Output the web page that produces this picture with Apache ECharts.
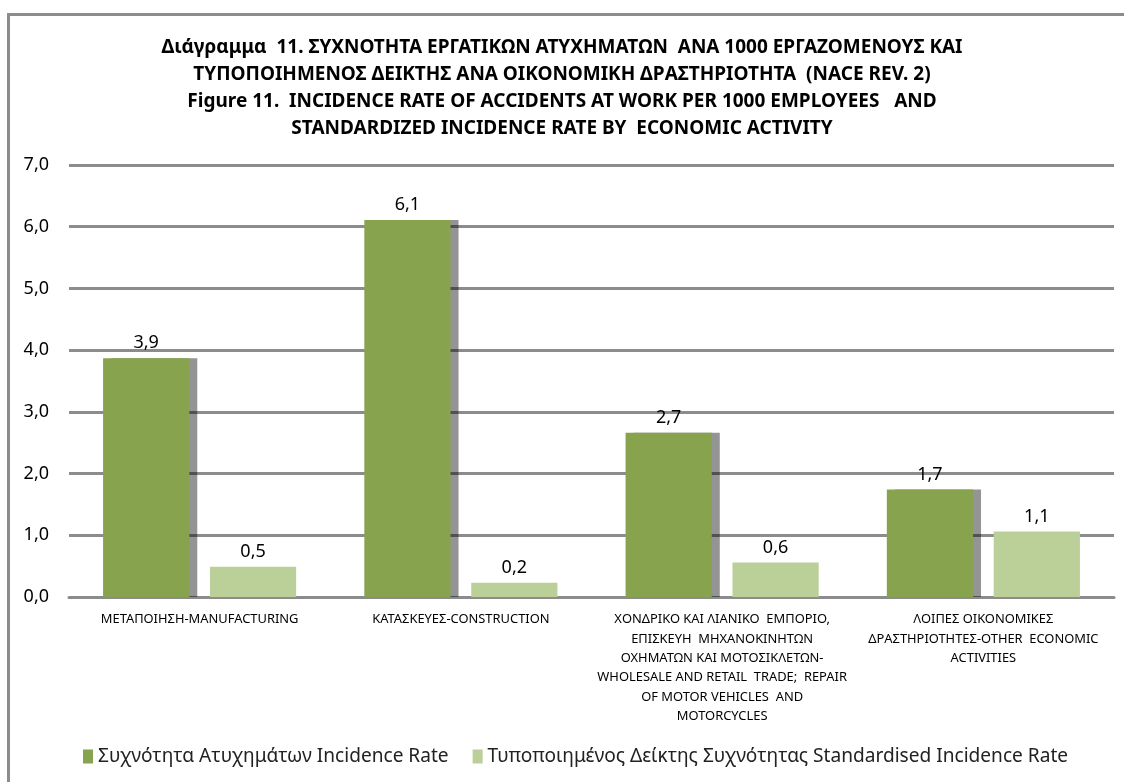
<!DOCTYPE html>
<html>
<head>
<meta charset="utf-8">
<script src="https://cdn.jsdelivr.net/npm/echarts@6/dist/echarts.min.js"></script>
<style>
  html, body { margin: 0; padding: 0; background: #fff; overflow: hidden; }
  #frame { position: absolute; left: 7px; top: 13px; width: 1140px; height: 800px; border: 3px solid #8c8c8c; box-sizing: border-box; }
  #main { position: absolute; left: 0; top: 0; width: 1124px; height: 782px; }
</style>
</head>
<body>
<div id="frame"></div>
<div id="main"></div>
<script>
// categories (greek / english, wrapped like the original)
const categories = [
    'ΜΕΤΑΠΟΙΗΣΗ-MANUFACTURING',
    'ΚΑΤΑΣΚΕΥΕΣ-CONSTRUCTION',
    'ΧΟΝΔΡΙΚΟ ΚΑΙ ΛΙΑΝΙΚΟ  ΕΜΠΟΡΙΟ,\nΕΠΙΣΚΕΥΗ  ΜΗΧΑΝΟΚΙΝΗΤΩΝ\nΟΧΗΜΑΤΩΝ ΚΑΙ ΜΟΤΟΣΙΚΛΕΤΩΝ-\nWHOLESALE AND RETAIL  TRADE;  REPAIR\nOF MOTOR VEHICLES  AND\nMOTORCYCLES',
    'ΛΟΙΠΕΣ ΟΙΚΟΝΟΜΙΚΕΣ\nΔΡΑΣΤΗΡΙΟΤΗΤΕΣ-OTHER  ECONOMIC\nACTIVITIES'
];
const incidenceRate = [3.87, 6.11, 2.66, 1.74];
const standardisedRate = [0.49, 0.23, 0.56, 1.06];
const seriesNames = [
    'Συχνότητα Ατυχημάτων Incidence Rate',
    'Τυποποιημένος Δείκτης Συχνότητας Standardised Incidence Rate'
];
const titleLines = [
    'Διάγραμμα  11. ΣΥΧΝΟΤΗΤΑ ΕΡΓΑΤΙΚΩΝ ΑΤΥΧΗΜΑΤΩΝ  ΑΝΑ 1000 ΕΡΓΑΖΟΜΕΝΟΥΣ ΚΑΙ',
    'ΤΥΠΟΠΟΙΗΜΕΝΟΣ ΔΕΙΚΤΗΣ ΑΝΑ ΟΙΚΟΝΟΜΙΚΗ ΔΡΑΣΤΗΡΙΟΤΗΤΑ  (NACE REV. 2)',
    'Figure 11.  INCIDENCE RATE OF ACCIDENTS AT WORK PER 1000 EMPLOYEES   AND',
    'STANDARDIZED INCIDENCE RATE BY  ECONOMIC ACTIVITY'
];

const font = 'Noto Sans';
const comma = v => v.toFixed(1).replace('.', ',');

const chart = echarts.init(document.getElementById('main'));
const option = {
    animation: false,
    color: ['#88a34e', '#bbcf98'],
    title: {
        text: titleLines.join('\n'),
        left: 'center',
        top: 29,
        textStyle: {
            fontFamily: font,
            fontSize: 19,
            fontWeight: 'bold',
            color: '#000',
            lineHeight: 27
        }
    },
    legend: {
        data: seriesNames,
        left: 78,
        bottom: 11,
        itemWidth: 10,
        itemHeight: 14,
        itemGap: 24,
        icon: 'rect',
        textStyle: { fontFamily: font, fontSize: 19.1, color: '#222' }
    },
    grid: {
        left: 69,
        right: 10,
        top: 165,
        bottom: 185
    },
    xAxis: {
        type: 'category',
        data: categories,
        axisLine: { lineStyle: { color: '#8c8c8c', width: 3 } },
        axisTick: { show: false },
        axisLabel: {
            interval: 0,
            margin: 13,
            fontFamily: font,
            fontSize: 12.9,
            lineHeight: 19.3,
            color: '#000'
        }
    },
    yAxis: {
        type: 'value',
        min: 0,
        max: 7,
        interval: 1,
        axisLine: { show: false },
        axisTick: { show: false },
        axisLabel: {
            margin: 20,
            fontFamily: font,
            fontSize: 18,
            color: '#000',
            formatter: v => comma(v)
        },
        splitLine: { lineStyle: { color: '#8c8c8c', width: 3 } }
    },
    series: [
        {
            name: seriesNames[0],
            type: 'bar',
            data: incidenceRate,
            barWidth: '33%',
            barGap: '24%',
            itemStyle: {
                shadowColor: 'rgba(0,0,0,0.42)',
                shadowOffsetX: 8,
                shadowOffsetY: 0,
                shadowBlur: 0
            },
            label: {
                show: true,
                position: 'top',
                distance: 6,
                fontFamily: font,
                fontSize: 18,
                color: '#000',
                formatter: p => comma(p.value)
            }
        },
        {
            name: seriesNames[1],
            type: 'bar',
            data: standardisedRate,
            barWidth: '33%',
            label: {
                show: true,
                position: 'top',
                distance: 6,
                fontFamily: font,
                fontSize: 18,
                color: '#000',
                formatter: p => comma(p.value)
            }
        }
    ]
};
chart.setOption(option);
</script>
</body>
</html>
